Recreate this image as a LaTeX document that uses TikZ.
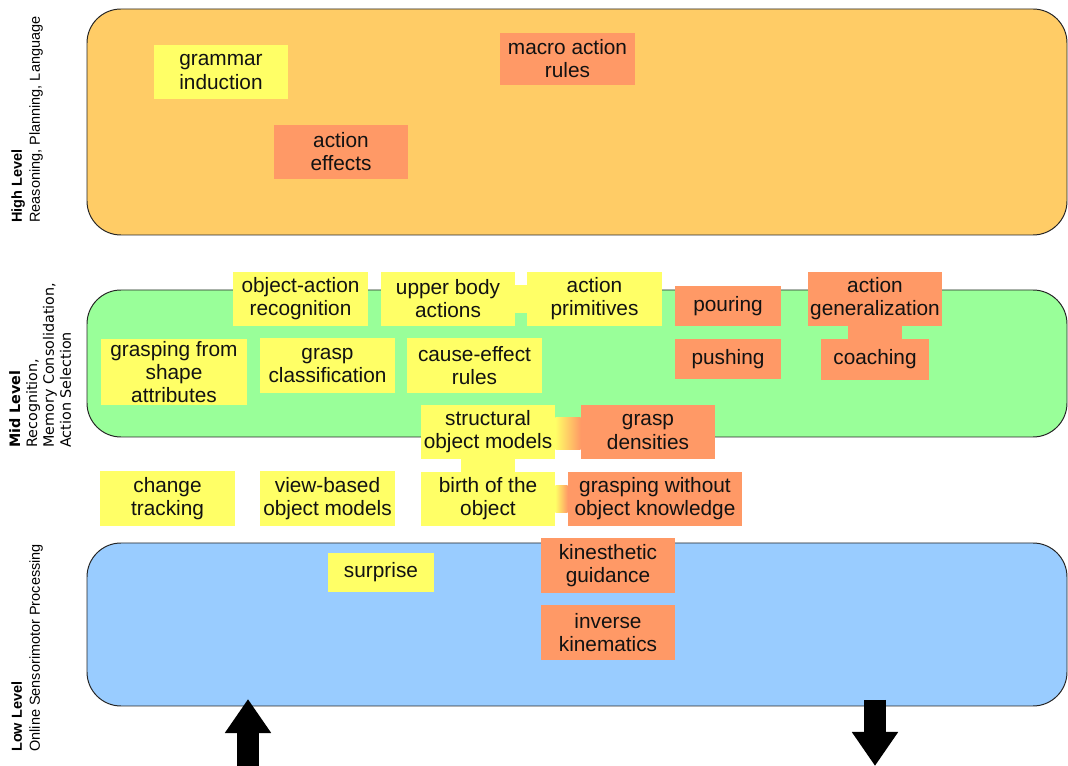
\documentclass[tikz,border=0pt]{standalone}
\usepackage{fontspec}
\setmainfont{Liberation Sans}
\newfontfamily\dejavu{DejaVu Sans}
\usepackage{tikz}
\usetikzlibrary{arrows.meta,calc}
\usepackage{xcolor}
\definecolor{boxyel}{HTML}{FFFF66}
\definecolor{boxorg}{HTML}{FF9966}
\definecolor{highbg}{HTML}{FFCC66}
\definecolor{midbg}{HTML}{99FF99}
\definecolor{lowbg}{HTML}{99CCFF}

\begin{document}
\begin{tikzpicture}[x=0.025cm,y=-0.025cm,
  layer/.style={draw=black!85,line width=0.7pt,rounded corners=0.85cm},
  lvl/.style={rotate=90,anchor=north west,inner sep=0pt,align=left},
  box/.style={inner sep=0pt,align=center,text=black!93,
    font=\fontsize{14.8}{16.4}\selectfont,minimum width=3.35cm,minimum height=1.35cm},
  yel/.style={box,fill=boxyel},
  org/.style={box,fill=boxorg},
  bar/.style={line width=#1},
  bigarrow/.style={line width=0.55cm,-{Triangle[width=1.1cm,length=0.85cm]}}]
\useasboundingbox (0,0) rectangle (1068,766);
\filldraw[layer,fill=highbg] (87,9) rectangle (1067,235);
\filldraw[layer,fill=midbg] (87,290) rectangle (1067,437);
\filldraw[layer,fill=lowbg] (87,543) rectangle (1067,706);
\node[lvl,font=\fontsize{10.3}{12.8}\selectfont] (hl) at (11,223) {\textbf{High Level}\\Reasoning, Planning, Language};
\node[lvl,font=\dejavu\fontsize{10.2}{12}\selectfont] (ml) at (9,448) {\textbf{Mid Level}\\Recognition,\\Memory Consolidation,\\Action Selection};
\node[lvl,font=\fontsize{10.3}{12.8}\selectfont] (ll) at (11,752) {\textbf{Low Level}\\Online Sensorimotor Processing};

\node[yel] (gram) at (221,72) {grammar\\induction};
\node[org,minimum height=1.3cm] (macro) at (567.5,59) {macro action\\rules};
\node[org] (eff) at (341,152) {action\\effects};

\node[yel] (oar) at (300.5,299) {object-action\\recognition};
\node[yel] (upb) at (448,299) {upper body\\actions};
\node[yel] (prim) at (594.5,299) {action\\primitives};
\node[org,minimum width=2.65cm,minimum height=1cm] (pour) at (728,306) {pouring};
\node[org] (agen) at (875,299) {action\\generalization};
\node[yel,minimum width=3.65cm,minimum height=1.65cm] (gsa) at (174,372) {grasping from\\shape\\attributes};
\node[yel] (gcl) at (327.5,365.5) {grasp\\classification};
\node[yel] (cer) at (474.5,365.5) {cause-effect\\rules};
\node[org,minimum width=2.65cm,minimum height=1cm] (push) at (728,359) {pushing};
\node[org,minimum width=2.7cm,minimum height=1.025cm] (coach) at (875,359.5) {coaching};
\node[yel] (sobj) at (488,432) {structural\\object models};
\node[org] (dens) at (648,432) {grasp\\densities};

\node[yel] (chg) at (167.5,498.5) {change\\tracking};
\node[yel] (vbm) at (327.5,498.5) {view-based\\object models};
\node[yel] (birth) at (488,499) {birth of the\\object};
\node[org,minimum width=4.35cm] (gwo) at (655,499) {grasping without\\object knowledge};

\node[yel,minimum width=2.65cm,minimum height=0.975cm] (surp) at (381,572.5) {surprise};
\node[org] (kin) at (608,565.5) {kinesthetic\\guidance};
\node[org] (ik) at (608,632.5) {inverse\\kinematics};

\draw[bar=0.7cm,boxyel] (upb) -- (prim);
\draw[bar=1.35cm,boxorg] (agen) -- (coach);
\draw[bar=1.35cm,boxyel] (sobj) -- (birth);
\shade[left color=boxyel,right color=boxorg] ($(sobj.east)+(0,-14)$) rectangle ($(dens.west)+(0,18)$);
\shade[left color=boxyel,right color=boxorg] ($(birth.east)+(0,-13)$) rectangle ($(gwo.west)+(0,14)$);

\coordinate (inbot) at (248,766);
\coordinate (intop) at (248,699);
\coordinate (outtop) at (875,700);
\coordinate (outbot) at (875,766);
\draw[bigarrow] (inbot) -- (intop);
\draw[bigarrow] (outtop) -- (outbot);
\end{tikzpicture}
\end{document}
